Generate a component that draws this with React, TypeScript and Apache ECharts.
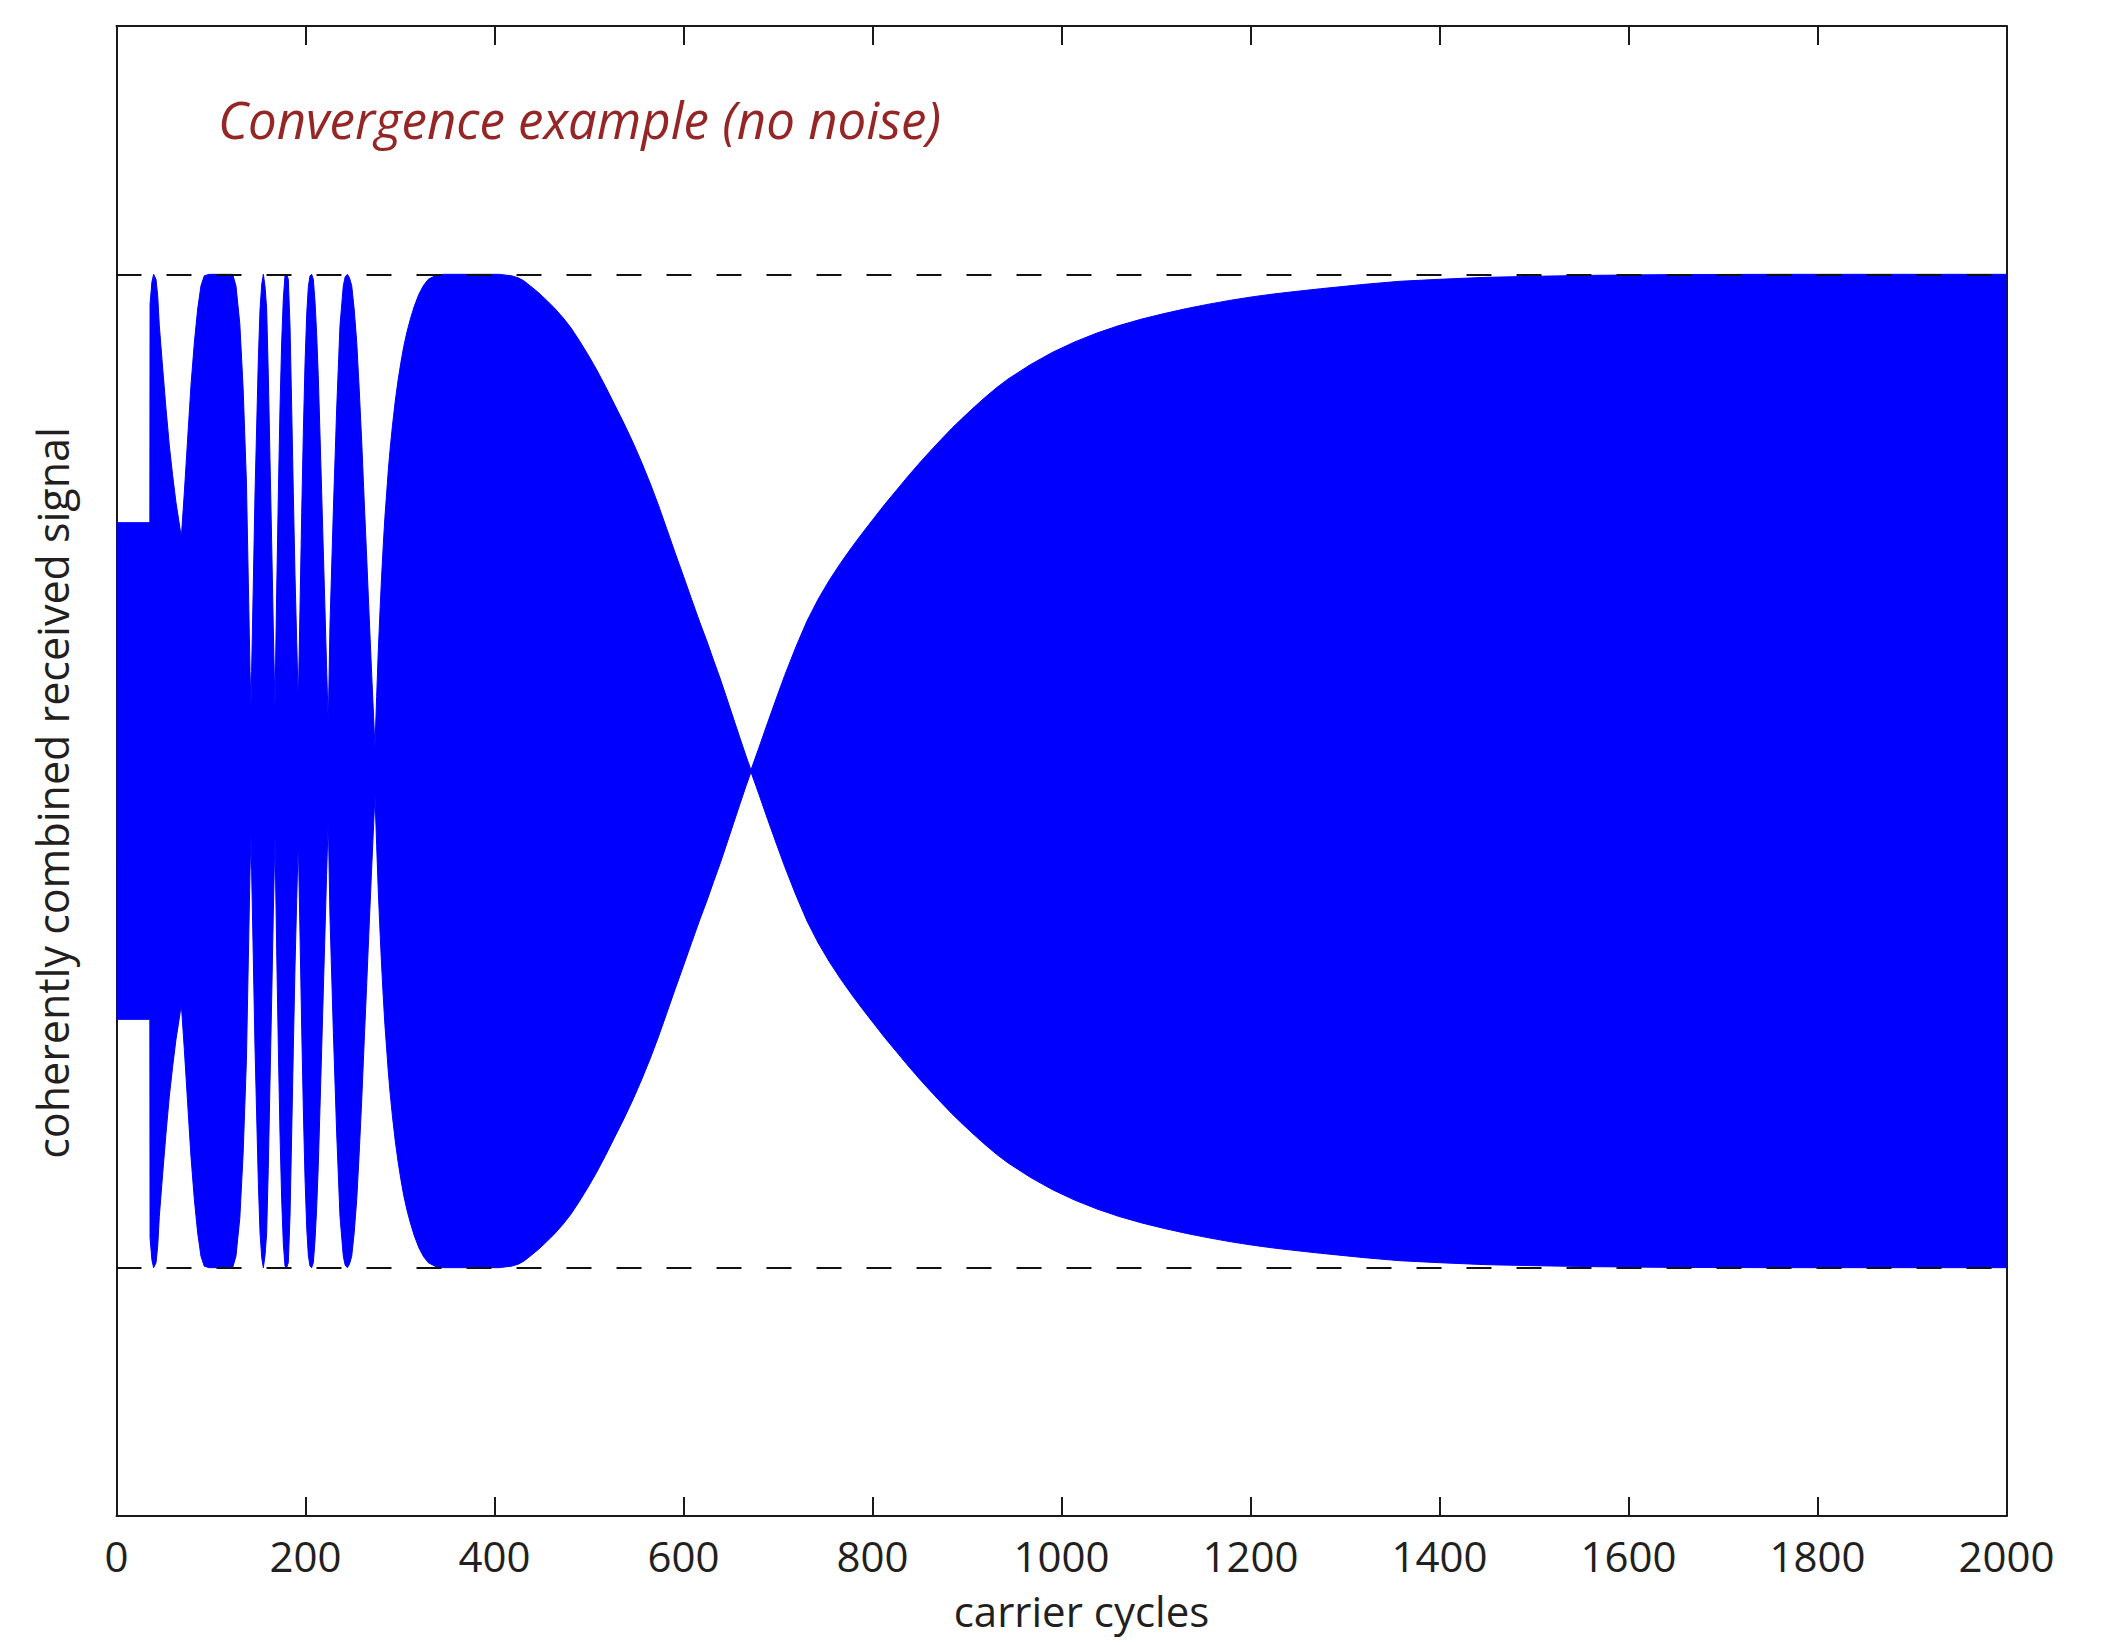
import React, { useEffect, useRef } from "react";
import * as echarts from "echarts";

const cycles = [
  // start level, first spike, lobe A
  0, 35.3, 35.5, 37.5, 39.3, 41.8, 43.6, 45.3, 48.9, 52.4, 55.9, 59.4, 62.9, 66.5, 68.6,
  71.8, 75.3, 78.8, 82.4, 85.9, 89.4, 92.9, 98.2, 122.9, 126.4, 130.5, 134.0, 137.5, 139.5,
  141.3, 142.3,
  // lobe B
  143.0, 146.6, 150.1, 151.9, 153.7, 155.4, 157.2, 158.9, 160.6, 162.4, 164.2, 165.9, 167.7,
  // lobe C
  169.5, 171.3, 173.0, 174.8, 176.5, 178.3, 180.1, 181.8, 183.6, 185.4, 187.1, 188.9, 190.7, 192.4,
  // lobe D
  194.2, 196.0, 197.7, 199.5, 201.3, 203.0, 204.8, 206.5, 208.3, 210.1, 211.8, 213.5, 215.3,
  217.1, 218.8, 220.6, 222.3, 224.1,
  // lobe E
  225.9, 229.5, 233.0, 236.5, 240.0, 242.0, 244.3, 246.5, 248.9, 251.5, 254.2, 256.8, 259.5,
  262.1, 264.8, 267.4, 270.1, 273.5,
  // lobe F rise
  275.3, 277.0, 278.8, 280.5, 282.3, 284.0, 285.9, 287.6, 289.4, 292.0, 295.0, 298.0, 301.0,
  304.0, 307.5, 311.0, 315.0, 320.0, 325.0, 330.0, 337.0, 345.0,
  // lobe F plateau and fall
  380, 405, 418, 425, 431, 437.6, 446, 455, 463.5, 472.8, 481, 490, 499, 508.1, 517.5, 527,
  537, 546.9, 556, 565, 573.5, 582.2, 591, 600, 608.7, 617.5, 625, 632, 639, 645.7, 653, 660,
  666, 671.4,
  // convergence
  680, 689, 698, 707, 719, 730.7, 742.5, 754.3, 766, 777.9, 789.7, 801.5, 813, 825.2, 837,
  848.8, 860.6, 872.4, 884, 896, 907.8, 919.6, 931.5, 943.3, 966.9, 990.5, 1014, 1037.7, 1061,
  1085, 1108.6, 1132.2, 1156, 1179.5, 1203, 1226.7, 1250, 1274, 1321.2, 1358, 1400, 1450, 1500,
  1564, 1650, 1750, 2000,
];

// Envelope amplitude of the combined signal (1 = the dashed reference level)
const envelope = [
  // start level, first spike, lobe A
  0.5, 0.5, 0.94, 0.985, 1.0, 0.99, 0.957, 0.897, 0.81, 0.729, 0.655, 0.595, 0.541, 0.497, 0.47,
  0.561, 0.669, 0.776, 0.863, 0.93, 0.977, 0.997, 1.0, 1.0, 0.977, 0.9, 0.77, 0.58, 0.38,
  0.2, 0.13,
  // lobe B
  0.2, 0.56, 0.83, 0.93, 0.98, 1.0, 0.975, 0.93, 0.8, 0.63, 0.46, 0.29, 0.13,
  // lobe C
  0.36, 0.561, 0.729, 0.863, 0.95, 0.997, 1.0, 0.99, 0.897, 0.729, 0.561, 0.393, 0.259, 0.138,
  // lobe D
  0.33, 0.52, 0.68, 0.82, 0.92, 0.975, 0.997, 1.0, 0.99, 0.944, 0.88, 0.796, 0.68,
  0.561, 0.445, 0.326, 0.21, 0.095,
  // lobe E
  0.293, 0.527, 0.729, 0.897, 0.977, 0.995, 1.0, 0.993, 0.977, 0.93, 0.863, 0.77, 0.662,
  0.545, 0.427, 0.31, 0.192, 0.048,
  // lobe F rise
  0.15, 0.24, 0.32, 0.39, 0.455, 0.51, 0.56, 0.605, 0.645, 0.695, 0.745, 0.787, 0.823,
  0.855, 0.885, 0.91, 0.935, 0.96, 0.978, 0.99, 0.997, 1.0,
  // lobe F plateau and fall
  1.0, 1.0, 0.997, 0.993, 0.987, 0.977, 0.964, 0.948, 0.932, 0.912, 0.892, 0.866, 0.838, 0.808,
  0.774, 0.738, 0.7, 0.66, 0.62, 0.578, 0.535, 0.488, 0.44, 0.392, 0.345, 0.298, 0.26, 0.222,
  0.185, 0.147, 0.105, 0.065, 0.031, 0.002,
  // convergence
  0.048, 0.097, 0.145, 0.192, 0.25, 0.302, 0.346, 0.384, 0.418, 0.45, 0.48, 0.509, 0.537,
  0.565, 0.592, 0.618, 0.643, 0.667, 0.69, 0.712, 0.733, 0.753, 0.772, 0.789, 0.818, 0.843,
  0.864, 0.882, 0.897, 0.91, 0.921, 0.931, 0.94, 0.948, 0.955, 0.961, 0.966, 0.971, 0.98,
  0.986, 0.99, 0.994, 0.996, 0.998, 0.9995, 1.0, 1.0,
];

const referenceLevels = [1, -1];
const xRange = [0, 2000];
const xStep = 200;
const yRange = [-1.5, 1.5];

const TITLE = "Convergence example (no noise)";
const X_NAME = "carrier cycles";
const Y_NAME = "coherently combined received signal";

export default function App() {
  const ref = useRef<HTMLDivElement>(null);

  useEffect(() => {
    if (!ref.current) return;
    const chart = echarts.init(ref.current, null, { renderer: "svg" });
    const n = Math.min(cycles.length, envelope.length);
    const upper: number[][] = [];
    const lower: number[][] = [];
    for (let i = 0; i < n; i++) {
      upper.push([cycles[i], envelope[i]]);
      lower.push([cycles[i], -envelope[i]]);
    }
    const font = "'Open Sans', sans-serif";
    const axisColor = "#1a1a1a";
    const textColor = "#231f20";
    const blue = "#0000ff";

    const axisLine = { show: true, onZero: false, lineStyle: { color: axisColor, width: 2 } };
    const tick = { show: true, inside: true, length: 19, lineStyle: { color: axisColor, width: 2 } };

    chart.setOption({
      animation: false,
      backgroundColor: "#ffffff",
      title: {
        text: TITLE,
        left: 218,
        top: 93,
        padding: 0,
        textStyle: {
          fontFamily: font,
          fontStyle: "italic",
          fontWeight: "normal",
          fontSize: 51,
          color: "#962626",
        },
      },
      grid: { left: 116.5, top: 26, width: 1890, height: 1490 },
      xAxis: [
        {
          type: "value",
          position: "bottom",
          min: xRange[0],
          max: xRange[1],
          interval: xStep,
          name: X_NAME,
          nameLocation: "middle",
          nameGap: 73,
          nameTextStyle: {
            fontFamily: font,
            fontSize: 42,
            color: textColor,
            padding: [0, 0, 0, 40],
          },
          axisLine,
          axisTick: tick,
          axisLabel: {
            margin: 18,
            fontFamily: font,
            fontSize: 42,
            color: textColor,
            showMinLabel: true,
            showMaxLabel: true,
            formatter: (v: number) => String(v),
          },
          splitLine: { show: false },
        },
        {
          type: "value",
          position: "top",
          min: xRange[0],
          max: xRange[1],
          interval: xStep,
          axisLine,
          axisTick: tick,
          axisLabel: { show: false },
          splitLine: { show: false },
        },
      ],
      yAxis: [
        {
          type: "value",
          position: "left",
          min: yRange[0],
          max: yRange[1],
          name: Y_NAME,
          nameLocation: "middle",
          nameGap: 43,
          nameTextStyle: {
            fontFamily: font,
            fontSize: 43,
            color: textColor,
            padding: [0, 44, 0, 0],
          },
          axisLine,
          axisTick: { show: false },
          axisLabel: { show: false },
          splitLine: { show: false },
        },
        {
          type: "value",
          position: "right",
          min: yRange[0],
          max: yRange[1],
          axisLine,
          axisTick: { show: false },
          axisLabel: { show: false },
          splitLine: { show: false },
        },
      ],
      series: [
        {
          name: "upper envelope",
          type: "line",
          xAxisIndex: 0,
          yAxisIndex: 0,
          data: upper,
          symbol: "none",
          silent: true,
          lineStyle: { color: blue, width: 1 },
          areaStyle: { color: blue, opacity: 1 },
          z: 2,
        },
        {
          name: "lower envelope",
          type: "line",
          xAxisIndex: 0,
          yAxisIndex: 0,
          data: lower,
          symbol: "none",
          silent: true,
          lineStyle: { color: blue, width: 1 },
          areaStyle: { color: blue, opacity: 1 },
          z: 2,
          markLine: {
            silent: true,
            symbol: "none",
            label: { show: false },
            lineStyle: { color: "#111111", width: 2, type: [25, 25] },
            data: referenceLevels.map((v) => ({ yAxis: v })),
          },
        },
      ],
    });

    return () => chart.dispose();
  }, []);

  return (
    <div
      ref={ref}
      style={{ position: "fixed", left: 0, top: 0, width: 2107, height: 1645 }}
    />
  );
}
